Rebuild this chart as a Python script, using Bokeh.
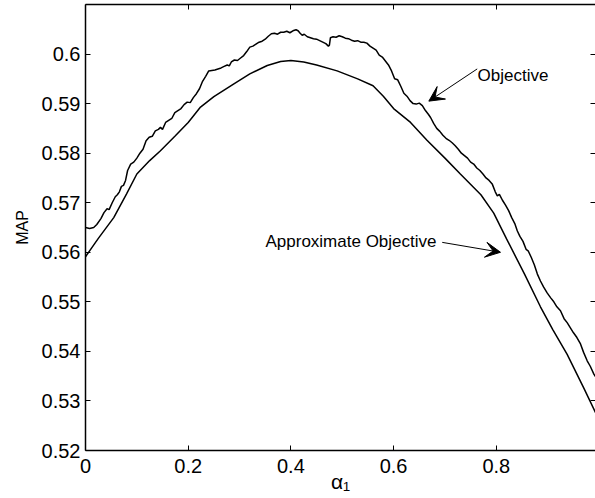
from bokeh.plotting import figure
from bokeh.models import Range1d, LinearAxis, FixedTicker, Label, Arrow, VeeHead
from bokeh.embed import file_html
from bokeh.resources import INLINE

# ---------------- data ----------------
alpha_approx = [0.000, 0.025, 0.055, 0.080, 0.100, 0.125, 0.146, 0.175, 0.200, 0.224,
                0.250, 0.289, 0.320, 0.354, 0.380, 0.400, 0.425, 0.450, 0.490, 0.530,
                0.560, 0.580, 0.600, 0.633, 0.665, 0.700, 0.730, 0.770, 0.795, 0.820,
                0.855, 0.886, 0.910, 0.938, 0.970, 1.000]
map_approx = [0.5591, 0.5628, 0.5670, 0.5718, 0.5758, 0.5785, 0.5805, 0.5835, 0.5862, 0.5893,
              0.5914, 0.5940, 0.5960, 0.5977, 0.5985, 0.5987, 0.5984, 0.5978, 0.5966, 0.5950,
              0.5936, 0.5915, 0.5890, 0.5862, 0.5826, 0.5790, 0.5758, 0.5716, 0.5679, 0.5627,
              0.5556, 0.5490, 0.5444, 0.5394, 0.5327, 0.5262]

alpha_obj = [0.000, 0.008, 0.016, 0.022, 0.030, 0.036, 0.042, 0.046, 0.052, 0.058,
             0.062, 0.066, 0.070, 0.074, 0.078, 0.082, 0.088, 0.094, 0.100, 0.106,
             0.112, 0.118, 0.124, 0.130, 0.136, 0.142, 0.146, 0.150, 0.156, 0.162,
             0.168, 0.174, 0.180, 0.186, 0.192, 0.198, 0.204, 0.210, 0.216, 0.222,
             0.228, 0.234, 0.240, 0.246, 0.252, 0.258, 0.264, 0.270, 0.276, 0.280,
             0.284, 0.290, 0.296, 0.302, 0.308, 0.314, 0.320, 0.326, 0.332, 0.338,
             0.344, 0.350, 0.356, 0.362, 0.368, 0.374, 0.380, 0.386, 0.392, 0.398,
             0.404, 0.410, 0.414, 0.418, 0.422, 0.426, 0.432, 0.438, 0.444, 0.450,
             0.456, 0.462, 0.468, 0.473, 0.475, 0.477, 0.482, 0.488, 0.494, 0.500,
             0.506, 0.512, 0.518, 0.524, 0.530, 0.536, 0.542, 0.548, 0.554, 0.560,
             0.566, 0.572, 0.578, 0.584, 0.590, 0.596, 0.602, 0.608, 0.614, 0.620,
             0.626, 0.632, 0.638, 0.644, 0.650, 0.656, 0.662, 0.668, 0.672, 0.678,
             0.684, 0.690, 0.696, 0.702, 0.708, 0.714, 0.720, 0.726, 0.732, 0.738,
             0.744, 0.750, 0.756, 0.762, 0.768, 0.774, 0.780, 0.786, 0.792, 0.798,
             0.802, 0.806, 0.812, 0.818, 0.824, 0.830, 0.836, 0.841, 0.846, 0.852,
             0.858, 0.862, 0.868, 0.874, 0.880, 0.886, 0.892, 0.899, 0.906, 0.912,
             0.918, 0.925, 0.932, 0.938, 0.944, 0.950, 0.957, 0.964, 0.970, 0.977,
             0.983, 0.990, 0.995, 1.000]
map_obj = [0.5650, 0.5648, 0.5650, 0.5656, 0.5668, 0.5680, 0.5688, 0.5686, 0.5700, 0.5712,
           0.5716, 0.5722, 0.5733, 0.5735, 0.5745, 0.5765, 0.5778, 0.5782, 0.5790, 0.5800,
           0.5808, 0.5825, 0.5832, 0.5834, 0.5845, 0.5848, 0.5852, 0.5848, 0.5862, 0.5866,
           0.5870, 0.5882, 0.5886, 0.5890, 0.5898, 0.5903, 0.5902, 0.5912, 0.5920, 0.5930,
           0.5945, 0.5955, 0.5966, 0.5967, 0.5968, 0.5970, 0.5972, 0.5975, 0.5978, 0.5976,
           0.5984, 0.5988, 0.5987, 0.5992, 0.5997, 0.6005, 0.6014, 0.6016, 0.6020, 0.6024,
           0.6026, 0.6030, 0.6036, 0.6041, 0.6042, 0.6040, 0.6044, 0.6044, 0.6046, 0.6043,
           0.6047, 0.6049, 0.6047, 0.6042, 0.6038, 0.6040, 0.6035, 0.6033, 0.6031, 0.6030,
           0.6027, 0.6024, 0.6021, 0.6016, 0.6018, 0.6033, 0.6035, 0.6034, 0.6037, 0.6035,
           0.6032, 0.6031, 0.6028, 0.6026, 0.6027, 0.6024, 0.6024, 0.6022, 0.6016, 0.6012,
           0.6008, 0.5998, 0.5994, 0.5986, 0.5978, 0.5966, 0.5950, 0.5948, 0.5935, 0.5921,
           0.5915, 0.5906, 0.5900, 0.5899, 0.5901, 0.5896, 0.5886, 0.5878, 0.5872, 0.5860,
           0.5850, 0.5844, 0.5836, 0.5830, 0.5826, 0.5821, 0.5815, 0.5808, 0.5800, 0.5795,
           0.5790, 0.5782, 0.5778, 0.5770, 0.5765, 0.5758, 0.5750, 0.5745, 0.5738, 0.5722,
           0.5714, 0.5717, 0.5705, 0.5695, 0.5684, 0.5670, 0.5658, 0.5643, 0.5632, 0.5622,
           0.5606, 0.5603, 0.5590, 0.5575, 0.5556, 0.5542, 0.5530, 0.5518, 0.5508, 0.5500,
           0.5490, 0.5482, 0.5466, 0.5458, 0.5448, 0.5438, 0.5428, 0.5415, 0.5398, 0.5381,
           0.5370, 0.5354, 0.5346, 0.5340]

x_ticks = [0.0, 0.2, 0.4, 0.6, 0.8]
x_tick_labels = ["0", "0.2", "0.4", "0.6", "0.8"]
y_ticks = [0.52, 0.53, 0.54, 0.55, 0.56, 0.57, 0.58, 0.59, 0.60]
y_tick_labels = ["0.52", "0.53", "0.54", "0.55", "0.56", "0.57", "0.58", "0.59", "0.6"]

x_label = "α₁"
y_label = "MAP"

# annotations: text, text anchor, arrow tail, arrow tip
ann_text = ["Objective", "Approximate Objective"]
ann_text_x = [0.7634, 0.3505]
ann_text_y = [0.5957, 0.5622]
arrow_tail_x = [0.7628, 0.6947]
arrow_tail_y = [0.5970, 0.5620]
arrow_tip_x = [0.6686, 0.8082]
arrow_tip_y = [0.5905, 0.5600]

FONT = "Liberation Sans"

p = figure(width=595, height=498, output_backend="svg", toolbar_location=None,
           x_range=Range1d(0, 0.9932), y_range=Range1d(0.52, 0.61),
           min_border_left=85, min_border_right=0, min_border_top=4,
           min_border_bottom=48)
p.outline_line_color = None
p.grid.visible = False
p.background_fill_color = "white"
p.border_fill_color = "white"

p.xaxis.ticker = FixedTicker(ticks=x_ticks)
p.xaxis.major_label_overrides = dict(zip(x_ticks, x_tick_labels))
p.yaxis.ticker = FixedTicker(ticks=y_ticks)
p.yaxis.major_label_overrides = dict(zip(y_ticks, y_tick_labels))

for ax in [p.xaxis[0], p.yaxis[0]]:
    ax.major_tick_in = 5
    ax.major_tick_out = 0
    ax.minor_tick_line_color = None
    ax.axis_line_width = 1.5
    ax.axis_line_color = "black"
    ax.major_tick_line_width = 1
    ax.major_tick_line_color = "black"
    ax.major_label_text_font = FONT
    ax.major_label_text_font_size = "20px"
    ax.major_label_text_color = "black"
    ax.axis_label_text_font = FONT
    ax.axis_label_text_font_style = "normal"
    ax.axis_label_text_color = "black"

p.xaxis.major_label_standoff = 8
p.xaxis.axis_label = x_label
p.xaxis.axis_label_text_font_size = "21px"
p.xaxis.axis_label_standoff = -6

p.yaxis.major_label_standoff = 5
p.yaxis.axis_label = y_label
p.yaxis.axis_label_text_font_size = "16px"
p.yaxis.axis_label_standoff = 8

top_axis = LinearAxis(ticker=FixedTicker(ticks=x_ticks),
                      major_label_overrides={t: "" for t in x_ticks},
                      major_label_text_font_size="0px", major_label_standoff=0,
                      major_tick_in=5, major_tick_out=0, minor_tick_line_color=None,
                      axis_line_width=1.5, axis_line_color="black",
                      major_tick_line_color="black", major_tick_line_width=1)
p.add_layout(top_axis, "above")
right_axis = LinearAxis(ticker=FixedTicker(ticks=y_ticks),
                        major_label_overrides={t: "" for t in y_ticks},
                        major_label_text_font_size="0px", major_label_standoff=0,
                        major_tick_in=5, major_tick_out=0, minor_tick_line_color=None,
                        axis_line_color=None,
                        major_tick_line_color="black", major_tick_line_width=1)
p.add_layout(right_axis, "right")

p.line(alpha_obj, map_obj, line_color="black", line_width=1.5)
p.line(alpha_approx, map_approx, line_color="black", line_width=1.5)

for i in range(len(ann_text)):
    p.add_layout(Arrow(end=VeeHead(size=15, fill_color="black", line_color="black",
                                   line_width=1),
                       x_start=arrow_tail_x[i], y_start=arrow_tail_y[i],
                       x_end=arrow_tip_x[i], y_end=arrow_tip_y[i],
                       line_color="black", line_width=1))
    p.add_layout(Label(x=ann_text_x[i], y=ann_text_y[i], text=ann_text[i],
                       text_font=FONT, text_font_size="17px", text_color="black",
                       text_align="left", text_baseline="middle"))

open("out.html", "w").write(file_html(p, INLINE))
